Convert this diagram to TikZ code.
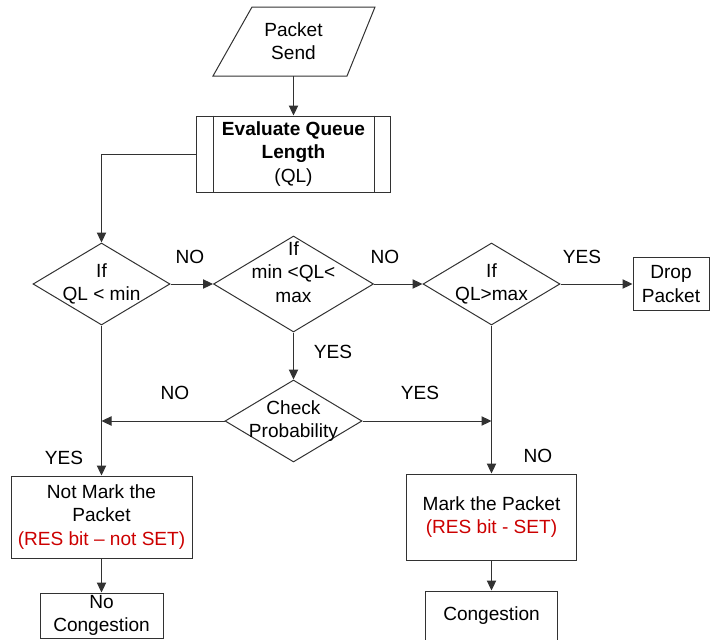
\documentclass[tikz,border=0pt]{standalone}
\usepackage{fontspec}
\setmainfont{Liberation Sans}
\usetikzlibrary{shapes.geometric,arrows.meta}
\definecolor{redtxt}{RGB}{204,0,0}
\definecolor{linec}{RGB}{50,50,50}
\begin{document}
\begin{tikzpicture}[x=0.75pt,y=-0.75pt,
  every node/.style={font=\fontsize{14.3}{17.5}\selectfont, align=center, inner sep=0pt},
  box/.style={draw=linec, line width=0.75pt, rectangle},
  dia/.style={draw=linec, line width=0.75pt, shape=diamond},
  arr/.style={draw=linec, line width=0.75pt, -{Triangle[length=7.5pt,width=7pt]}},
  lbl/.style={font=\fontsize{14.3}{17}\selectfont}
]
\useasboundingbox (0,0) rectangle (710,639);
% Packet Send
\draw[draw=linec, line width=0.75pt] (252,7) -- (375,7) -- (347,76) -- (213,76) -- cycle;
\node[minimum height=51.75pt, minimum width=60pt] (ps) at (293.5,41.5) {Packet\\Send};
% Evaluate Queue Length
\node[box, minimum width=145.5pt, minimum height=57pt] (eql) at (293.5,154) {\textbf{Evaluate Queue}\\\textbf{Length}\\(QL)};
\draw[draw=linec, line width=0.75pt] ([xshift=12.75pt]eql.north west) -- ([xshift=12.75pt]eql.south west);
\draw[draw=linec, line width=0.75pt] ([xshift=-12.75pt]eql.north east) -- ([xshift=-12.75pt]eql.south east);
% Diamonds
\node[dia, minimum width=102.75pt, minimum height=61.5pt] (d1) at (101.5,284) {};
\node (d1t) at (101.5,284) {If\\QL < min};
\node[dia, minimum width=120pt, minimum height=72pt] (d2) at (293.5,284) {};
\node (d2t) at (293.5,272) {If\\min <QL<\\max};
\node[dia, minimum width=102.75pt, minimum height=61.5pt] (d3) at (491.5,284) {};
\node (d3t) at (491.5,284) {If\\QL>max};
\node[box, minimum width=57pt, minimum height=39.75pt] (drop) at (671,284) {Drop\\Packet};
\node[dia, minimum width=102.75pt, minimum height=61.5pt] (cp) at (293.5,421) {};
\node (cpt) at (293.5,421) {Check\\Probability};
% Boxes
\node[box, minimum width=135.75pt, minimum height=61.5pt] (nm) at (101.5,517) {Not Mark the\\Packet\\\textcolor{redtxt}{(RES bit – not SET)}};
\node[box, minimum width=127.5pt, minimum height=64.5pt] (mk) at (491.5,517) {Mark the Packet\\\textcolor{redtxt}{(RES bit - SET)}};
\node[box, minimum width=92.25pt, minimum height=33.75pt] (nc) at (101.5,615.5) {No\\Congestion};
\node[box, minimum width=99pt, minimum height=36.75pt] (cg) at (491.5,615.5) {Congestion};
% Connectors
\draw[arr] (ps.south) -- (eql.north);
\draw[arr] (eql.west) -| (d1.north);
\draw[arr] (d1.east) -- (d2.west);
\draw[arr] (d2.east) -- (d3.west);
\draw[arr] (d3.east) -- (drop.west);
\draw[arr] (d2.south) -- (cp.north);
\coordinate (jl) at (d1 |- cp);
\coordinate (jr) at (d3 |- cp);
\draw[arr] (cp.west) -- (jl);
\draw[arr] (cp.east) -- (jr);
\draw[arr] (d1.south) -- (nm.north);
\draw[arr] (d3.south) -- (mk.north);
\draw[arr] (nm.south) -- (nc.north);
\draw[arr] (mk.south) -- (cg.north);
% Labels
\node[lbl] (l1) at (190,257) {NO};
\node[lbl] (l2) at (385,257) {NO};
\node[lbl] (l3) at (582,257) {YES};
\node[lbl] (l4) at (333,352) {YES};
\node[lbl] (l5) at (175,393) {NO};
\node[lbl] (l6) at (420,393) {YES};
\node[lbl] (l7) at (64,458) {YES};
\node[lbl] (l8) at (538,456) {NO};
\end{tikzpicture}
\end{document}
